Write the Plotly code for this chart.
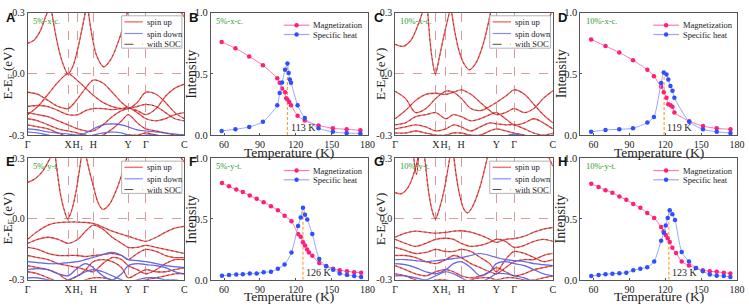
import plotly.graph_objects as go

# ---------------- band-structure data ----------------
KPATH_POS = [0, 0.258, 0.321, 0.419, 0.642, 0.755, 1.0]
KPATH_LBL = ["Γ", "X", "H<sub>1</sub>", "H", "Y", "Γ", "C"]
K = [0, 0.065, 0.13, 0.195, 0.258, 0.321, 0.37, 0.419, 0.48, 0.54, 0.60, 0.642, 0.70, 0.755, 0.82, 0.88, 0.94, 1.0]

# Panel A (5%-x-c.)
A_cond_k = [[0, 0.04, 0.08, 0.11, 0.14],
            [0.15, 0.19, 0.225, 0.258, 0.29, 0.325, 0.37],
            [0.385, 0.41, 0.44, 0.485, 0.53, 0.58, 0.64],
            [0.96, 0.98, 1.0]]
A_cond_e = [[0.15, 0.165, 0.21, 0.27, 0.33],
            [0.32, 0.15, 0.05, 0.0, 0.04, 0.14, 0.31],
            [0.32, 0.19, 0.09, 0.035, 0.07, 0.16, 0.31],
            [0.32, 0.3, 0.28]]
A_up = [
    [-0.2, -0.16, -0.1, -0.04, 0.0, -0.035, -0.07, -0.105, -0.14, -0.16, -0.17, -0.17, -0.14, -0.09, -0.1, -0.14, -0.19, -0.22],
    [-0.09, -0.1, -0.13, -0.16, -0.17, -0.12, -0.07, -0.03, -0.045, -0.09, -0.14, -0.165, -0.18, -0.2, -0.17, -0.11, -0.07, -0.05],
    [-0.16, -0.155, -0.16, -0.18, -0.2, -0.2, -0.18, -0.17, -0.17, -0.175, -0.17, -0.165, -0.19, -0.22, -0.23, -0.22, -0.2, -0.19],
    [-0.19, -0.2, -0.21, -0.23, -0.25, -0.27, -0.28, -0.28, -0.25, -0.21, -0.18, -0.17, -0.16, -0.15, -0.16, -0.19, -0.22, -0.23],
    [-0.22, -0.23, -0.25, -0.27, -0.28, -0.29, -0.3, -0.31, -0.3, -0.27, -0.23, -0.2, -0.24, -0.27, -0.28, -0.29, -0.3, -0.3],
    [-0.25, -0.26, -0.27, -0.29, -0.31, -0.33, -0.34, -0.34, -0.33, -0.32, -0.31, -0.3, -0.3, -0.29, -0.3, -0.31, -0.32, -0.33],
]
A_dn = [
    [-0.27, -0.275, -0.285, -0.29, -0.295, -0.3, -0.29, -0.27, -0.25, -0.245, -0.25, -0.26, -0.275, -0.28, -0.285, -0.29, -0.295, -0.3],
    [-0.285, -0.29, -0.3, -0.31, -0.32, -0.32, -0.31, -0.3, -0.29, -0.285, -0.29, -0.3, -0.31, -0.3, -0.3, -0.31, -0.32, -0.33],
]

# Panel C (10%-x-c.)
C_cond_k = [[0, 0.05, 0.1, 0.15, 0.18],
            [0.205, 0.23, 0.255, 0.28, 0.31, 0.35],
            [0.355, 0.38, 0.41, 0.44, 0.47, 0.51, 0.56, 0.61],
            [0.8, 0.84, 0.88, 0.93, 0.97, 1.0]]
C_cond_e = [[0.145, 0.135, 0.165, 0.25, 0.32],
            [0.32, 0.1, 0.0, 0.08, 0.19, 0.32],
            [0.32, 0.2, 0.1, 0.045, 0.02, 0.05, 0.15, 0.32],
            [0.15, 0.13, 0.13, 0.18, 0.26, 0.32]]
C_up = [
    [-0.085, -0.12, -0.19, -0.17, -0.12, -0.085, -0.09, -0.12, -0.17, -0.18, -0.16, -0.14, -0.11, -0.078, -0.1, -0.15, -0.2, -0.24],
    [-0.22, -0.18, -0.13, -0.1, -0.095, -0.1, -0.09, -0.078, -0.1, -0.14, -0.18, -0.2, -0.19, -0.17, -0.19, -0.17, -0.12, -0.083],
    [-0.25, -0.24, -0.21, -0.2, -0.19, -0.22, -0.2, -0.21, -0.23, -0.22, -0.2, -0.19, -0.22, -0.25, -0.24, -0.22, -0.24, -0.27],
    [-0.27, -0.26, -0.25, -0.26, -0.28, -0.27, -0.25, -0.26, -0.28, -0.26, -0.24, -0.245, -0.25, -0.25, -0.27, -0.29, -0.3, -0.29],
    [-0.29, -0.29, -0.28, -0.29, -0.3, -0.3, -0.29, -0.29, -0.3, -0.3, -0.28, -0.27, -0.28, -0.29, -0.3, -0.31, -0.31, -0.3],
]
C_dn = [
    [-0.32, -0.32, -0.33, -0.33, -0.34, -0.34, -0.33, -0.33, -0.33, -0.32, -0.32, -0.31, -0.305, -0.295, -0.305, -0.32, -0.33, -0.34],
]

# Panel E (5%-y-t.)
E_cond_k = [[0, 0.05, 0.1, 0.13, 0.155],
            [0.175, 0.21, 0.235, 0.256, 0.28, 0.31, 0.345],
            [0.37, 0.39, 0.42, 0.45, 0.48, 0.52, 0.57, 0.64],
            [0.96, 1.0]]
E_cond_e = [[0.18, 0.2, 0.24, 0.28, 0.32],
            [0.32, 0.12, 0.04, 0.0, 0.04, 0.14, 0.32],
            [0.32, 0.25, 0.16, 0.08, 0.047, 0.07, 0.15, 0.32],
            [0.32, 0.28]]
E_up = [
    [-0.1, -0.06, -0.03, -0.018, -0.015, -0.015, -0.017, -0.022, -0.04, -0.06, -0.075, -0.085, -0.1, -0.11, -0.09, -0.065, -0.045, -0.036],
    [-0.12, -0.1, -0.09, -0.1, -0.12, -0.1, -0.06, -0.03, -0.05, -0.09, -0.12, -0.14, -0.14, -0.13, -0.14, -0.15, -0.16, -0.17],
    [-0.14, -0.15, -0.17, -0.18, -0.18, -0.18, -0.185, -0.18, -0.175, -0.17, -0.18, -0.2, -0.17, -0.15, -0.16, -0.18, -0.19, -0.19],
    [-0.18, -0.19, -0.2, -0.22, -0.23, -0.24, -0.25, -0.26, -0.22, -0.19, -0.2, -0.23, -0.25, -0.27, -0.25, -0.22, -0.2, -0.2],
    [-0.23, -0.24, -0.25, -0.27, -0.3, -0.28, -0.25, -0.21, -0.2, -0.21, -0.24, -0.29, -0.27, -0.25, -0.26, -0.26, -0.25, -0.24],
    [-0.26, -0.27, -0.29, -0.31, -0.33, -0.32, -0.3, -0.29, -0.29, -0.3, -0.31, -0.32, -0.31, -0.3, -0.29, -0.28, -0.27, -0.27],
]
E_dn = [
    [-0.21, -0.215, -0.22, -0.22, -0.215, -0.21, -0.2, -0.19, -0.175, -0.165, -0.18, -0.2, -0.205, -0.21, -0.22, -0.23, -0.235, -0.24],
    [-0.25, -0.245, -0.25, -0.27, -0.28, -0.24, -0.22, -0.24, -0.28, -0.3, -0.27, -0.23, -0.22, -0.225, -0.23, -0.24, -0.26, -0.27],
    [-0.29, -0.29, -0.3, -0.31, -0.3, -0.28, -0.26, -0.25, -0.26, -0.28, -0.3, -0.31, -0.3, -0.29, -0.29, -0.3, -0.3, -0.31],
]

# Panel G (10%-y-t.)
G_cond_k = [[0, 0.04, 0.085, 0.125, 0.15],
            [0.115, 0.135, 0.15],
            [0.185, 0.215, 0.235, 0.255, 0.28, 0.31, 0.35],
            [0.37, 0.39, 0.41, 0.435, 0.46, 0.49, 0.535, 0.59],
            [0.96, 1.0]]
G_cond_e = [[0.13, 0.125, 0.16, 0.24, 0.32],
            [0.32, 0.22, 0.32],
            [0.32, 0.12, 0.04, 0.0, 0.05, 0.14, 0.32],
            [0.32, 0.2, 0.115, 0.05, 0.03, 0.06, 0.15, 0.32],
            [0.33, 0.26]]
G_up = [
    [-0.09, -0.07, -0.06, -0.065, -0.07, -0.066, -0.06, -0.058, -0.065, -0.08, -0.1, -0.115, -0.1, -0.097, -0.085, -0.065, -0.05, -0.042],
    [-0.1, -0.12, -0.135, -0.12, -0.1, -0.095, -0.1, -0.12, -0.135, -0.13, -0.115, -0.1, -0.11, -0.14, -0.13, -0.11, -0.1, -0.11],
    [-0.14, -0.155, -0.17, -0.165, -0.15, -0.16, -0.16, -0.15, -0.16, -0.19, -0.22, -0.26, -0.2, -0.16, -0.17, -0.19, -0.21, -0.2],
    [-0.18, -0.18, -0.19, -0.21, -0.22, -0.2, -0.18, -0.19, -0.22, -0.24, -0.26, -0.27, -0.24, -0.21, -0.2, -0.2, -0.18, -0.17],
    [-0.23, -0.25, -0.27, -0.28, -0.26, -0.25, -0.26, -0.28, -0.29, -0.28, -0.26, -0.24, -0.26, -0.28, -0.27, -0.25, -0.24, -0.23],
    [-0.27, -0.28, -0.3, -0.31, -0.3, -0.3, -0.31, -0.32, -0.3, -0.29, -0.29, -0.3, -0.29, -0.29, -0.3, -0.3, -0.29, -0.28],
]
G_dn = [
    [-0.2, -0.2, -0.205, -0.21, -0.205, -0.2, -0.195, -0.19, -0.18, -0.17, -0.18, -0.19, -0.2, -0.205, -0.21, -0.22, -0.225, -0.23],
    [-0.22, -0.225, -0.24, -0.26, -0.27, -0.25, -0.22, -0.21, -0.24, -0.28, -0.26, -0.22, -0.21, -0.22, -0.23, -0.25, -0.27, -0.28],
    [-0.28, -0.28, -0.29, -0.3, -0.28, -0.26, -0.27, -0.29, -0.31, -0.31, -0.29, -0.27, -0.27, -0.28, -0.29, -0.31, -0.32, -0.32],
]

# ---------------- thermodynamic data ----------------
B_T_mag = [58, 69.5, 81, 92.5, 104.5, 106.5, 108.5, 111, 112, 113, 114.5, 116, 121.5, 127.5, 139, 151, 162.5, 174]
B_mag = [0.761, 0.709, 0.643, 0.570, 0.465, 0.428, 0.381, 0.349, 0.300, 0.29, 0.27, 0.244, 0.157, 0.118, 0.079, 0.055, 0.047, 0.039]
B_T_sh = [58, 69.5, 81, 92.5, 104.5, 106.5, 108.5, 111, 113, 114, 115, 116, 121.5, 127.5, 139, 151, 162.5, 174]
B_sh = [0.034, 0.047, 0.066, 0.108, 0.244, 0.344, 0.43, 0.533, 0.585, 0.507, 0.454, 0.428, 0.244, 0.139, 0.055, 0.026, 0.016, 0.013]
B_TC = 113

D_T = [58, 70, 81.5, 93, 105, 110.5, 116.5, 118.7, 121, 122.5, 124.3, 126, 127.6, 140, 151.5, 163, 174.5]
D_mag = [0.782, 0.727, 0.675, 0.612, 0.533, 0.480, 0.394, 0.349, 0.304, 0.252, 0.244, 0.231, 0.184, 0.113, 0.073, 0.055, 0.047]
D_sh = [0.026, 0.042, 0.047, 0.055, 0.102, 0.147, 0.425, 0.512, 0.496, 0.454, 0.402, 0.362, 0.304, 0.108, 0.047, 0.026, 0.016]
D_TC = 119

F_T_mag = [58.3, 64.1, 70.2, 75.7, 81.5, 87.3, 93.1, 99.2, 105, 110.6, 116.4, 121.9, 124.1, 126, 127.7, 129.4, 131, 133.8, 139.6, 145.4, 151.2, 156.7, 162.8, 168.8, 174.6]
F_mag = [0.795, 0.768, 0.742, 0.721, 0.692, 0.666, 0.637, 0.605, 0.571, 0.526, 0.482, 0.376, 0.355, 0.308, 0.282, 0.25, 0.224, 0.197, 0.139, 0.113, 0.092, 0.079, 0.071, 0.063, 0.058]
F_T_sh = [58.3, 64.1, 70.2, 75.7, 81.5, 87.3, 93.1, 99.2, 105, 110.6, 116.4, 121.9, 124.1, 126, 127.7, 129.6, 133.8, 139.6, 145.4, 151.2, 156.7, 162.8, 168.8, 174.6]
F_sh = [0.034, 0.039, 0.045, 0.047, 0.053, 0.053, 0.063, 0.066, 0.092, 0.126, 0.224, 0.442, 0.513, 0.592, 0.534, 0.495, 0.376, 0.171, 0.111, 0.084, 0.053, 0.039, 0.032, 0.024]
F_TC = 126

H_T_mag = [58.1, 64.2, 70, 75.8, 81.6, 87.4, 93.2, 99.1, 104.9, 110.7, 116.5, 118.7, 120.4, 122, 123.7, 125.9, 129, 133.7, 139.8, 145.6, 151.4, 157.2, 163, 168.9, 174.4]
H_mag = [0.789, 0.763, 0.737, 0.716, 0.684, 0.658, 0.624, 0.592, 0.55, 0.508, 0.434, 0.4, 0.368, 0.342, 0.311, 0.263, 0.22, 0.15, 0.118, 0.097, 0.079, 0.071, 0.066, 0.058, 0.053]
H_T_sh = [58.1, 64.2, 70, 75.8, 81.6, 87.4, 93.2, 99.1, 104.9, 110.7, 116.5, 118.7, 120.4, 122, 123.7, 125.9, 128.1, 133.7, 139.8, 145.6, 151.4, 157.2, 163, 168.9, 174.4]
H_sh = [0.032, 0.039, 0.047, 0.05, 0.055, 0.058, 0.079, 0.092, 0.103, 0.15, 0.321, 0.387, 0.447, 0.508, 0.571, 0.539, 0.492, 0.229, 0.15, 0.097, 0.071, 0.045, 0.034, 0.032, 0.024]
H_TC = 123

T_TICKS = [60, 90, 120, 150, 180]
I_TICKS = [0, 0.5, 1.0]
E_TICKS = [-0.3, 0.0, 0.3]

# ---------------- styling ----------------
W, Hh = 749, 307
SERIF = "Liberation Serif"
SANS = "Liberation Sans"
RED = "#ff5252"
BLUE = "#5c5cff"
SOC = "#3a3a3a"
GRID = "#d99c9c"
PINK_M = "#ff1f78"
PINK_L = "#ff78b0"
BLUE_M = "#2f4fff"
BLUE_L = "#98a8ff"
GREEN = "#2e9a2e"
FRAME = "#555555"
TXT = "#222222"


def xd(a, b):
    return [a / W, b / W]


def yd(top, bot):
    return [1 - bot / Hh, 1 - top / Hh]


TOP = yd(7, 134.3)
BOT = yd(158.3, 285)
PANELS = {
    "A": (1, xd(25, 184), TOP),
    "B": (2, xd(211, 370), TOP),
    "C": (3, xd(398, 558), TOP),
    "D": (4, xd(586, 745), TOP),
    "E": (5, xd(25, 184), BOT),
    "F": (6, xd(211, 370), BOT),
    "G": (7, xd(398, 558), BOT),
    "H": (8, xd(586, 745), BOT),
}
LETTER_POS = {"A": (1, 2), "B": (187, 2), "C": (374, 2), "D": (561, 2),
              "E": (1, 152), "F": (187, 152), "G": (374, 152), "H": (561, 152)}
TAGS = {"A": "5%-x-c.", "B": "5%-x-c.", "C": "10%-x-c.", "D": "10%-x-c.",
        "E": "5%-y-t.", "F": "5%-y-t.", "G": "10%-y-t.", "H": "10%-y-t."}

fig = go.Figure()
annotations = []
shapes = []
layout = {}


def axn(i):
    return ("x" if i == 1 else f"x{i}"), ("y" if i == 1 else f"y{i}")


def keys(i):
    return ("xaxis" if i == 1 else f"xaxis{i}"), ("yaxis" if i == 1 else f"yaxis{i}")


def line_trace(kk, ee, xa, ya, color, width, dash=None):
    return go.Scatter(x=kk, y=ee, mode="lines",
                      line=dict(color=color, width=width, dash=dash, shape="spline", smoothing=0.9),
                      xaxis=xa, yaxis=ya, showlegend=False, hoverinfo="skip")


def add_band_panel(name, cond_k, cond_e, up, dn):
    i, xdom, ydom = PANELS[name]
    xa, ya = axn(i)
    for kk, ee in zip(cond_k, cond_e):
        fig.add_trace(line_trace(kk, ee, xa, ya, RED, 1.3))
    for b in up:
        fig.add_trace(line_trace(K, b, xa, ya, RED, 1.3))
    for b in dn:
        fig.add_trace(line_trace(K, b, xa, ya, BLUE, 1.2))
    for kk, ee in zip(cond_k, cond_e):
        fig.add_trace(line_trace(kk, ee, xa, ya, SOC, 0.7, "2px,3px"))
    for b in up:
        fig.add_trace(line_trace(K, b, xa, ya, SOC, 0.7, "2px,3px"))
    for b in dn:
        fig.add_trace(line_trace(K, b, xa, ya, "#8a8a8a", 0.7, "2px,3px"))
    kx, ky = keys(i)
    layout[kx] = dict(domain=xdom, anchor=ya, range=[0, 1], tickmode="array", tickvals=KPATH_POS,
                      ticktext=KPATH_LBL, tickangle=0, showgrid=True, gridcolor=GRID, griddash="dash",
                      gridwidth=0.9, showline=True, mirror=True, linecolor=FRAME, linewidth=1,
                      zeroline=False, ticks="", tickfont=dict(family=SERIF, size=10, color=TXT),
                      fixedrange=True)
    layout[ky] = dict(domain=ydom, anchor=xa, range=[-0.3, 0.3], tickmode="array", tickvals=E_TICKS,
                      ticktext=["-0.3", "0.0", "0.3"], showgrid=True, gridcolor=GRID, griddash="dash",
                      gridwidth=0.9, showline=True, mirror=True, linecolor=FRAME, linewidth=1,
                      zeroline=False, ticks="", tickfont=dict(family=SERIF, size=10, color=TXT),
                      fixedrange=True)
    xr, yr = f"{xa} domain", f"{ya} domain"
    xoff = -19 if name in ("A", "E") else -13
    annotations.append(dict(text="E-E<sub>F</sub> (eV)", xref=xr, yref=yr,
                            x=0, y=0.5, xshift=xoff, textangle=-90, showarrow=False,
                            font=dict(family=SERIF, size=13, color=TXT), xanchor="center", yanchor="middle"))
    shapes.append(dict(type="rect", xref=xr, yref=yr, x0=0.6, x1=0.985, y0=0.71, y1=0.975,
                       fillcolor="white", line=dict(color="#a0a0a0", width=0.8), layer="above"))
    items = [("spin up", RED, None, 0.925), ("spin down", "#8a8aff", None, 0.83), ("with SOC", SOC, "dash", 0.742)]
    for txt, col, dash, yy in items:
        shapes.append(dict(type="line", xref=xr, yref=yr, x0=0.618, x1=0.735, y0=yy, y1=yy,
                           line=dict(color=col, width=1.2 if dash is None else 0.9, dash=dash), layer="above"))
        annotations.append(dict(text=txt, xref=xr, yref=yr, x=0.75, y=yy, showarrow=False,
                                xanchor="left", yanchor="middle",
                                font=dict(family=SERIF, size=8.5, color=TXT)))


def add_thermo_panel(name, tm, mag, ts, sh, tc):
    i, xdom, ydom = PANELS[name]
    xa, ya = axn(i)
    shapes.append(dict(type="line", xref=xa, yref=ya, x0=tc, x1=tc, y0=0, y1=max(sh),
                       line=dict(color="#ffa040", width=1.2, dash="3px,2px"), layer="below"))
    fig.add_trace(go.Scatter(x=tm, y=mag, mode="lines+markers",
                             line=dict(color=PINK_L, width=1, shape="spline", smoothing=0.6),
                             marker=dict(color=PINK_M, size=4.5, symbol="circle"),
                             xaxis=xa, yaxis=ya, showlegend=False, hoverinfo="skip"))
    fig.add_trace(go.Scatter(x=ts, y=sh, mode="lines+markers",
                             line=dict(color=BLUE_L, width=1, shape="spline", smoothing=0.6),
                             marker=dict(color=BLUE_M, size=4.5, symbol="circle"),
                             xaxis=xa, yaxis=ya, showlegend=False, hoverinfo="skip"))
    annotations.append(dict(text=f"{tc} K", xref=xa, yref=ya, x=tc + 1, y=0.06, showarrow=False,
                            xanchor="left", yanchor="middle", font=dict(family=SERIF, size=10, color=TXT)))
    kx, ky = keys(i)
    layout[kx] = dict(domain=xdom, anchor=ya, range=[49, 180], tickmode="array", tickvals=T_TICKS,
                      tickangle=0, showgrid=False, showline=True, mirror=True, linecolor=FRAME, linewidth=1,
                      zeroline=False, ticks="inside", ticklen=2, tickcolor=FRAME,
                      tickfont=dict(family=SERIF, size=10, color=TXT), fixedrange=True)
    layout[ky] = dict(domain=ydom, anchor=xa, range=[0, 1], tickmode="array", tickvals=I_TICKS,
                      ticktext=["0.0", "0.5", "1.0"], showgrid=False, showline=True, mirror=True,
                      linecolor=FRAME, linewidth=1, zeroline=False, ticks="inside", ticklen=2,
                      tickcolor=FRAME, tickfont=dict(family=SERIF, size=10.5, color=TXT), fixedrange=True)
    xr, yr = f"{xa} domain", f"{ya} domain"
    annotations.append(dict(text="Intensity", xref=xr, yref=yr, x=0, y=0.5, xshift=-19, textangle=-90,
                            showarrow=False, font=dict(family=SERIF, size=14, color=TXT),
                            xanchor="center", yanchor="middle"))
    annotations.append(dict(text="Temperature (K)", xref=xr, yref=yr, x=0.5, y=0, yshift=-17,
                            showarrow=False, font=dict(family=SERIF, size=13.5, color=TXT),
                            xanchor="center", yanchor="middle"))
    items = [("Magnetization", PINK_L, PINK_M, 0.898), ("Specific heat", BLUE_L, BLUE_M, 0.822)]
    for txt, lc, mc, yy in items:
        shapes.append(dict(type="line", xref=xr, yref=yr, x0=0.465, x1=0.629, y0=yy, y1=yy,
                           line=dict(color=lc, width=1.2), layer="above"))
        shapes.append(dict(type="circle", xref=xr, yref=yr, xsizemode="pixel", ysizemode="pixel",
                           xanchor=0.547, yanchor=yy, x0=-2.2, x1=2.2, y0=-2.2, y1=2.2,
                           fillcolor=mc, line=dict(width=0), layer="above"))
        annotations.append(dict(text=txt, xref=xr, yref=yr, x=0.64, y=yy, showarrow=False,
                                xanchor="left", yanchor="middle",
                                font=dict(family=SERIF, size=8.5, color=TXT)))


add_band_panel("A", A_cond_k, A_cond_e, A_up, A_dn)
add_thermo_panel("B", B_T_mag, B_mag, B_T_sh, B_sh, B_TC)
add_band_panel("C", C_cond_k, C_cond_e, C_up, C_dn)
add_thermo_panel("D", D_T, D_mag, D_T, D_sh, D_TC)
add_band_panel("E", E_cond_k, E_cond_e, E_up, E_dn)
add_thermo_panel("F", F_T_mag, F_mag, F_T_sh, F_sh, F_TC)
add_band_panel("G", G_cond_k, G_cond_e, G_up, G_dn)
add_thermo_panel("H", H_T_mag, H_mag, H_T_sh, H_sh, H_TC)

for name, (i, xdom, ydom) in PANELS.items():
    xa, ya = axn(i)
    lx, ly = LETTER_POS[name]
    annotations.append(dict(text=f"<b>{name}</b>", xref="paper", yref="paper", x=lx / W, y=1 - ly / Hh,
                            showarrow=False, xanchor="left", yanchor="top",
                            font=dict(family=SANS, size=13, color="#111")))
    annotations.append(dict(text=TAGS[name], xref=f"{xa} domain", yref=f"{ya} domain", x=0.02, y=0.935,
                            showarrow=False, xanchor="left", yanchor="middle",
                            font=dict(family=SERIF, size=8.5, color=GREEN)))

fig.update_layout(width=W, height=Hh, margin=dict(l=0, r=0, t=0, b=0), paper_bgcolor="white",
                  plot_bgcolor="white", showlegend=False, annotations=annotations, shapes=shapes, **layout)
fig.write_html("out.html", config={"displayModeBar": False},
               post_script="document.body.style.margin='0px';")
